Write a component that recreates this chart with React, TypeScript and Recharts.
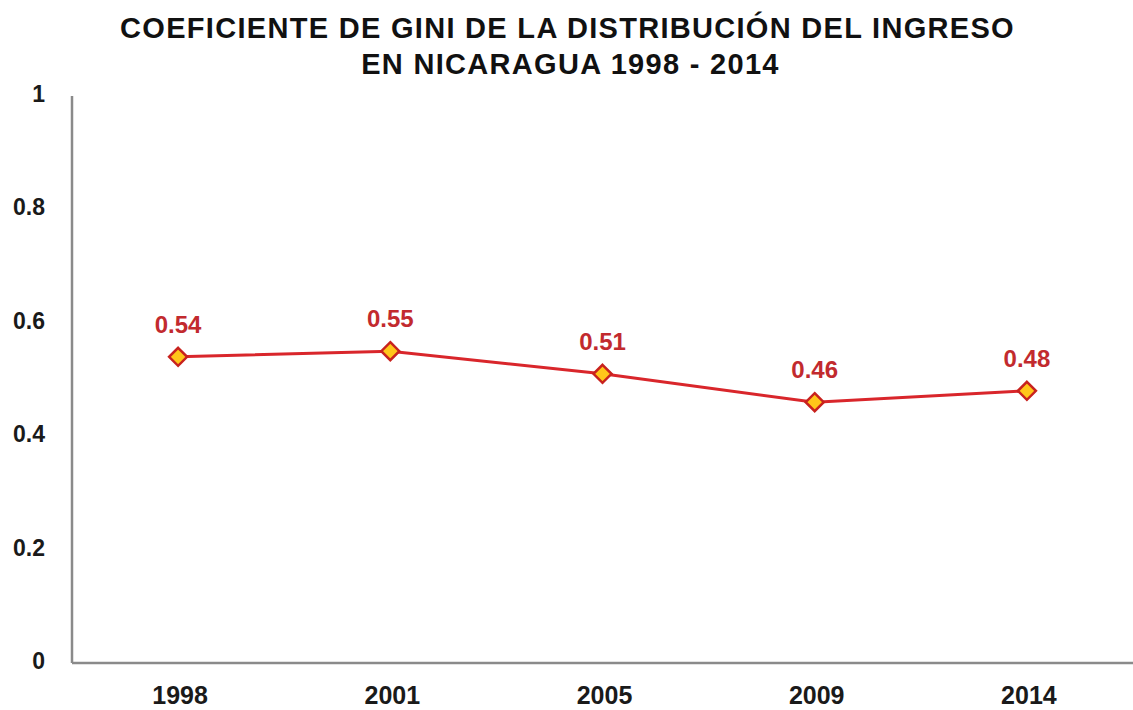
import React from 'react';
import { LineChart, Line, XAxis, YAxis, LabelList } from 'recharts';

const years = ['1998', '2001', '2005', '2009', '2014'];
const gini = [0.54, 0.55, 0.51, 0.46, 0.48];
const yTicks = [0, 0.2, 0.4, 0.6, 0.8, 1];
const titleLines = ['COEFICIENTE DE GINI DE LA DISTRIBUCIÓN DEL INGRESO', 'EN NICARAGUA 1998 - 2014'];

const data = years.map((y, i) => ({ year: y, value: gini[i] }));

const FONT = '"Liberation Sans", Arial, sans-serif';

const Diamond = (props: any) => {
  const { cx, cy } = props;
  if (cx == null || cy == null) return null;
  const r = 9;
  return (
    <path
      d={`M${cx},${cy - r} L${cx + r},${cy} L${cx},${cy + r} L${cx - r},${cy} Z`}
      fill="#ffc61a"
      stroke="#c8221e"
      strokeWidth={2.5}
    />
  );
};

const ValueLabel = (props: any) => {
  const { x, y, value } = props;
  return (
    <text
      x={x}
      y={y - 24}
      textAnchor="middle"
      fill="#c22a2e"
      fontFamily={FONT}
      fontWeight="bold"
      fontSize={24}
    >
      {String(value)}
    </text>
  );
};

const YTick = (props: any) => {
  const { x, y, payload } = props;
  return (
    <text x={x - 19} y={y + 6} textAnchor="end" fill="#1a1a1a" fontFamily={FONT} fontWeight="bold" fontSize={23}>
      {String(payload.value)}
    </text>
  );
};

const XTick = (props: any) => {
  const { x, y, payload } = props;
  return (
    <text x={x + 2} y={y + 33} textAnchor="middle" fill="#1a1a1a" fontFamily={FONT} fontWeight="bold" fontSize={25}>
      {payload.value}
    </text>
  );
};

export default function App() {
  return (
    <div style={{ position: 'absolute', left: 0, top: 0, width: 1133, height: 710, background: '#fff', overflow: 'hidden' }}>
      <div
        style={{
          position: 'absolute',
          left: 0,
          top: 10,
          width: 1133,
          textAlign: 'center',
          fontFamily: FONT,
          fontWeight: 'bold',
          fontSize: 29,
          lineHeight: '36px',
          color: '#111',
          letterSpacing: 1.3,
        }}
      >
        <div style={{ paddingLeft: 2 }}>{titleLines[0]}</div>
        <div style={{ paddingLeft: 8 }}>{titleLines[1]}</div>
      </div>
      <div style={{ position: 'absolute', left: 0, top: 0 }}>
        <LineChart width={1133} height={710} data={data} margin={{ top: 96, right: 0, bottom: 0, left: 0 }}>
          <XAxis
            dataKey="year"
            scale="band"
            tick={<XTick />}
            tickLine={false}
            axisLine={{ stroke: '#8a8a8a', strokeWidth: 2.5 }}
            interval={0}
            height={47}
          />
          <YAxis
            domain={[0, 1]}
            ticks={yTicks}
            tick={<YTick />}
            tickLine={false}
            axisLine={{ stroke: '#8a8a8a', strokeWidth: 2.5 }}
            width={72}
            interval={0}
          />
          <Line
            type="linear"
            dataKey="value"
            stroke="#d9262b"
            strokeWidth={3}
            dot={<Diamond />}
            activeDot={false}
            isAnimationActive={false}
          >
            <LabelList dataKey="value" content={<ValueLabel />} />
          </Line>
        </LineChart>
      </div>
    </div>
  );
}
